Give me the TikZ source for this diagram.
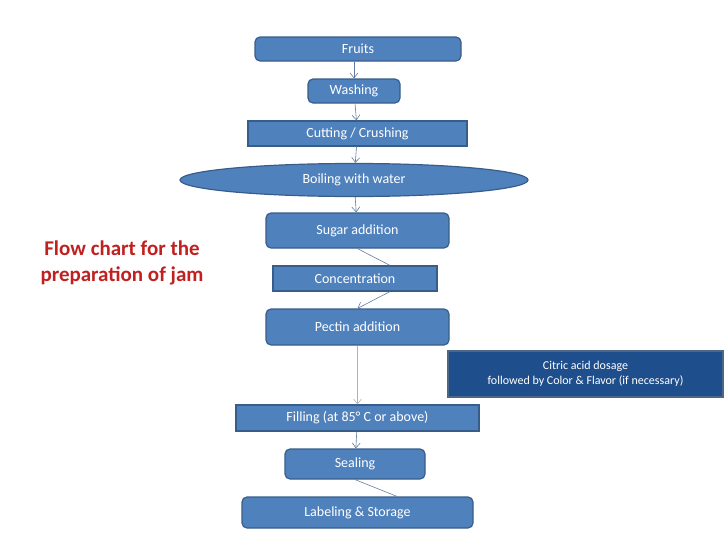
\documentclass[tikz,border=0pt]{standalone}
\usepackage{fontspec}
\setmainfont{Carlito}
\usetikzlibrary{shapes.geometric,arrows.meta}
\definecolor{bfill}{HTML}{4F81BD}
\definecolor{bdraw}{HTML}{385D8A}
\definecolor{dfill}{HTML}{1F4E8C}
\definecolor{tred}{HTML}{C0201F}
\begin{document}
\begin{tikzpicture}[x=1pt,y=-1pt,
  box/.style={draw=bdraw,fill=bfill,line width=1.2pt,text=white,font=\fontsize{14}{16}\selectfont,inner sep=0pt,minimum height=#1},
  rbox/.style={box=#1,rounded corners=5pt},
  conn/.style={draw=bdraw!80,line width=0.6pt},
  arr/.style={conn,-{Straight Barb[length=5pt,width=8pt]}}]
\useasboundingbox (0,0) rectangle (728,546);
\node[rbox=24pt,minimum width=206pt] (fr) at (358,49) {Fruits};
\node[rbox=24pt,minimum width=92pt] (wa) at (354,91) {Washing};
\node[box=25pt,minimum width=219pt] (cu) at (357.5,133.5) {Cutting / Crushing};
\node[draw=bdraw,fill=bfill,line width=1.2pt,text=white,font=\fontsize{14}{16}\selectfont,ellipse,inner sep=0pt,minimum width=348pt,minimum height=33pt] (bo) at (354,180) {Boiling with water};
\node[rbox=35pt,minimum width=183pt] (su) at (357.5,230.5) {Sugar addition};
\node[box=25pt,minimum width=164pt] (co) at (355,278.5) {Concentration};
\node[rbox=36pt,minimum width=183pt] (pe) at (357.5,327) {Pectin addition};
\node[box=46pt,draw=bdraw!70!gray,fill=dfill,minimum width=275pt,align=center,font=\fontsize{12}{15}\selectfont] (ci) at (585.5,374) {Citric acid dosage\\followed by Color \& Flavor (if necessary)};
\node[box=26pt,minimum width=243pt] (fi) at (357.5,418) {Filling (at 85° C or above)};
\node[rbox=30pt,minimum width=140pt] (se) at (355,464) {Sealing};
\node[rbox=31pt,minimum width=231pt] (la) at (357.5,512.5) {Labeling \& Storage};
\node[text=tred,font=\bfseries\fontsize{21}{26}\selectfont,align=center] (ti) at (122,263) {Flow chart for the\\preparation of jam};
\draw[arr] (fr.south -| wa.north) -- (wa.north);
\draw[arr] (wa) -- (cu);
\draw[arr] (cu) -- (bo);
\draw[arr] (bo) -- (su);
\draw[conn] (su.south) -- (co.north east -| 390,0);
\draw[arr] (co.south -| 390,0) -- (pe.north);
\draw[arr,draw=gray!60] (pe) -- (fi);
\draw[arr] (fi) -- (se);
\draw[conn] (se.south) -- (la.north -| 397,0);
\end{tikzpicture}
\end{document}
